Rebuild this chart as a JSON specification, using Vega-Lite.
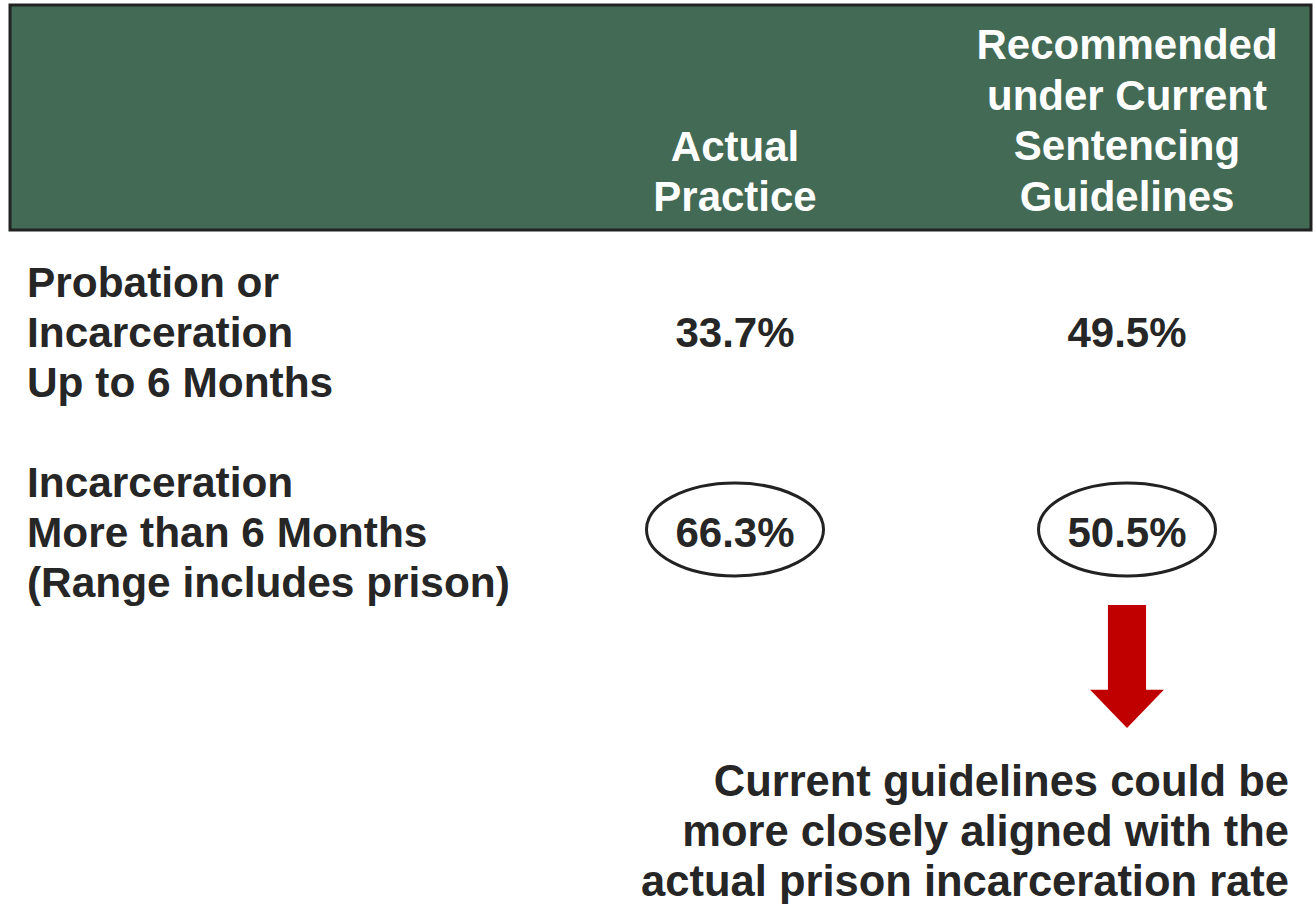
{
  "$schema": "https://vega.github.io/schema/vega-lite/v6.json",
  "width": 1316,
  "height": 904,
  "autosize": {"type": "fit", "contains": "padding"},
  "padding": {"left": 8, "right": 3, "top": 0, "bottom": 0},
  "background": "#ffffff",
  "datasets": {
    "header": [
      {"row": "header", "column": "actual", "title": "Actual\nPractice"},
      {"row": "header", "column": "recommended", "title": "Recommended\nunder Current\nSentencing\nGuidelines"}
    ],
    "rows": [
      {"row": "row1", "column": "label", "label": "Probation or\nIncarceration\nUp to 6 Months", "actual": 0.337, "recommended": 0.495},
      {"row": "row2", "column": "label", "label": "Incarceration\nMore than 6 Months\n(Range includes prison)", "actual": 0.663, "recommended": 0.505}
    ],
    "note": [
      {"row": "note", "column": "recommended", "text": "Current guidelines could be\nmore closely aligned with the\nactual prison incarceration rate"}
    ]
  },
  "layer": [
    {
      "data": {"values": [{"row": "header"}]},
      "mark": {"type": "rect", "fill": "#436A55", "stroke": "#222222", "strokeWidth": 3, "height": 225, "yOffset": -29.5},
      "encoding": {
        "y": {"field": "row", "type": "nominal", "axis": null,
              "scale": {"type": "point", "domain": ["header", "row1", "row2", "note"], "range": [147, 747], "padding": 0}}
      }
    },
    {
      "data": {"name": "header"},
      "transform": [{"filter": "datum.column === 'actual'"}],
      "mark": {"type": "text", "align": "center", "baseline": "alphabetic", "dy": 14, "color": "#ffffff"},
      "encoding": {
        "x": {"field": "column", "type": "nominal", "axis": null,
              "scale": {"type": "point", "domain": ["label", "actual", "recommended"], "range": [333, 1117], "padding": 0}},
        "y": {"field": "row", "type": "nominal", "axis": null},
        "text": {"field": "title"}
      }
    },
    {
      "data": {"name": "header"},
      "transform": [{"filter": "datum.column === 'recommended'"}],
      "mark": {"type": "text", "align": "center", "baseline": "alphabetic", "dy": -88, "lineHeight": 50.7, "color": "#ffffff"},
      "encoding": {
        "x": {"field": "column", "type": "nominal", "axis": null},
        "y": {"field": "row", "type": "nominal", "axis": null},
        "text": {"field": "title"}
      }
    },
    {
      "data": {"name": "rows"},
      "mark": {"type": "text", "align": "left", "baseline": "alphabetic", "dx": -316, "dy": -50, "fontSize": 42.4, "color": "#262626"},
      "encoding": {
        "x": {"field": "column", "type": "nominal", "axis": null},
        "y": {"field": "row", "type": "nominal", "axis": null},
        "text": {"field": "label"}
      }
    },
    {
      "data": {"name": "rows"},
      "transform": [{"fold": ["actual", "recommended"], "as": ["column", "share"]}],
      "mark": {"type": "text", "align": "center", "baseline": "alphabetic", "color": "#262626"},
      "encoding": {
        "x": {"field": "column", "type": "nominal", "axis": null},
        "y": {"field": "row", "type": "nominal", "axis": null},
        "text": {"field": "share", "type": "quantitative", "format": ".1%"}
      }
    },
    {
      "data": {"name": "rows"},
      "transform": [
        {"filter": "datum.row === 'row2'"},
        {"fold": ["actual", "recommended"], "as": ["column", "share"]}
      ],
      "mark": {"type": "point", "filled": false, "stroke": "#222222", "strokeWidth": 3, "opacity": 1, "size": 31329, "yOffset": -17.5,
               "shape": "M-1,0C-1,-0.29,-0.5523,-0.525,0,-0.525C0.5523,-0.525,1,-0.29,1,0C1,0.29,0.5523,0.525,0,0.525C-0.5523,0.525,-1,0.29,-1,0Z"},
      "encoding": {
        "x": {"field": "column", "type": "nominal", "axis": null},
        "y": {"field": "row", "type": "nominal", "axis": null}
      }
    },
    {
      "data": {"name": "rows"},
      "transform": [
        {"filter": "datum.row === 'row2'"},
        {"fold": ["recommended"], "as": ["column", "share"]}
      ],
      "mark": {"type": "point", "filled": true, "fill": "#C00000", "strokeWidth": 0, "opacity": 1, "size": 15129, "yOffset": 119.5,
               "shape": "M-0.31,-1H0.31V0.38H0.6L0,1L-0.6,0.38H-0.31Z"},
      "encoding": {
        "x": {"field": "column", "type": "nominal", "axis": null},
        "y": {"field": "row", "type": "nominal", "axis": null}
      }
    },
    {
      "data": {"name": "note"},
      "mark": {"type": "text", "align": "right", "baseline": "alphabetic", "dx": 162, "dy": 49, "fontSize": 43.5, "color": "#262626"},
      "encoding": {
        "x": {"field": "column", "type": "nominal", "axis": null},
        "y": {"field": "row", "type": "nominal", "axis": null},
        "text": {"field": "text"}
      }
    }
  ],
  "config": {
    "view": {"stroke": null},
    "text": {"font": "Liberation Sans", "fontWeight": "bold", "fontSize": 42, "lineHeight": 50, "lineBreak": "\n"}
  }
}
